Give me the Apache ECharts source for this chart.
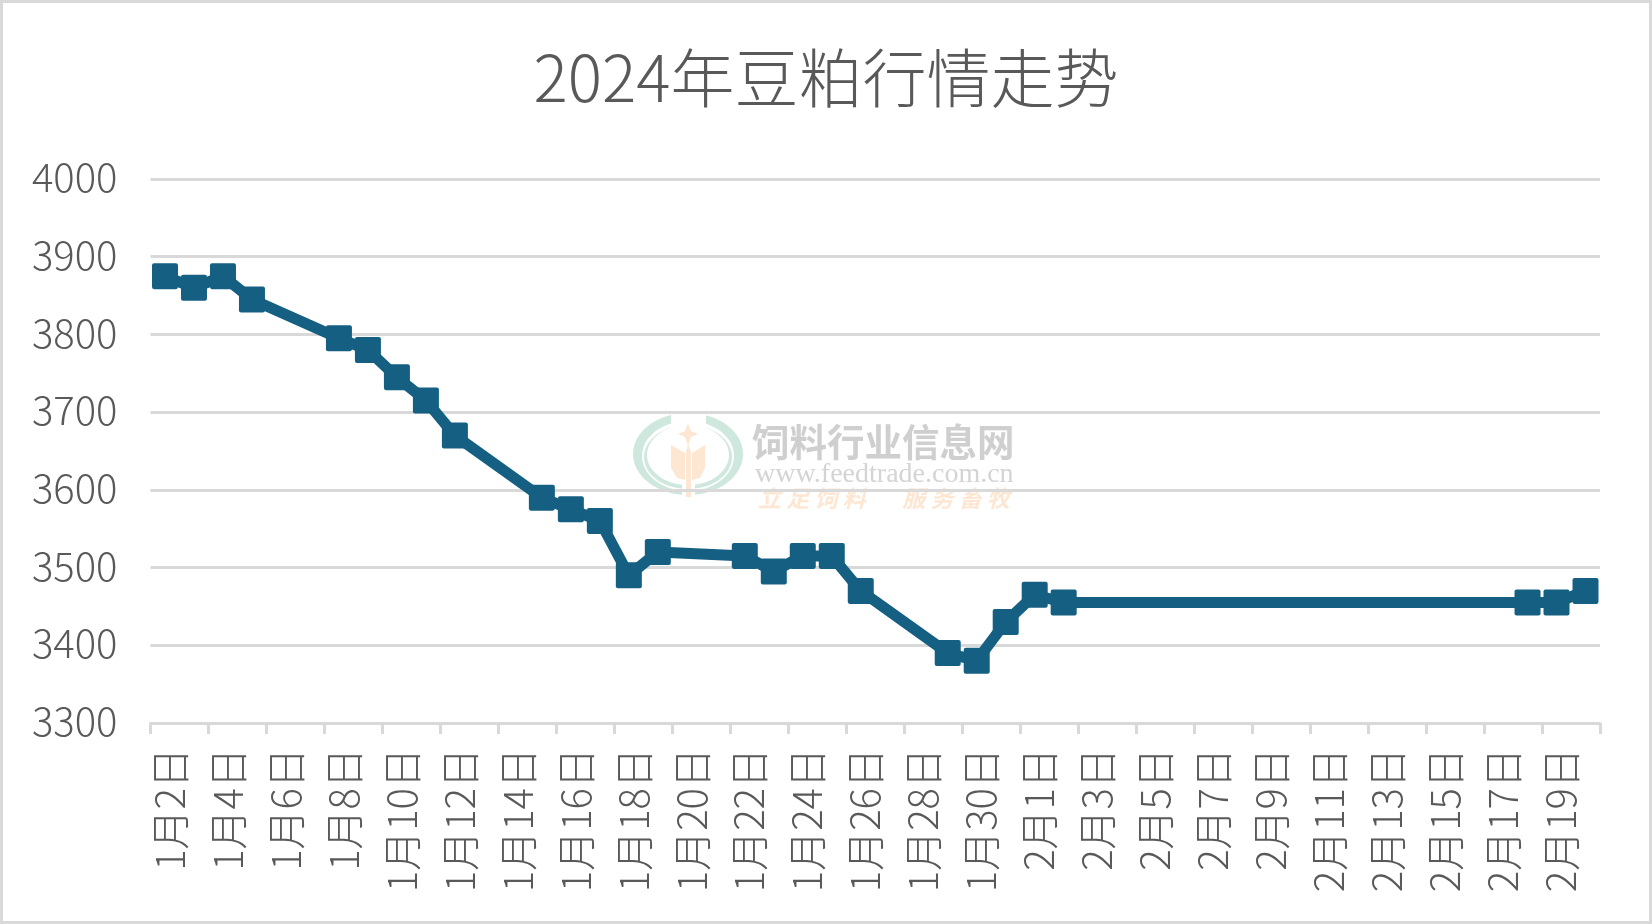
<!DOCTYPE html>
<html>
<head>
<meta charset="utf-8">
<style>html,body{margin:0;padding:0;background:#fff}#c{width:1652px;height:924px}</style>
<script src="https://cdn.jsdelivr.net/npm/echarts@6/dist/echarts.min.js"></script>
</head>
<body>
<div id="c"></div>
<script>
const titleText = '2024年豆粕行情走势';
const categories = ['1月2日','1月3日','1月4日','1月5日','1月6日','1月7日','1月8日','1月9日','1月10日','1月11日',
  '1月12日','1月13日','1月14日','1月15日','1月16日','1月17日','1月18日','1月19日','1月20日','1月21日',
  '1月22日','1月23日','1月24日','1月25日','1月26日','1月27日','1月28日','1月29日','1月30日','1月31日',
  '2月1日','2月2日','2月3日','2月4日','2月5日','2月6日','2月7日','2月8日','2月9日','2月10日',
  '2月11日','2月12日','2月13日','2月14日','2月15日','2月16日','2月17日','2月18日','2月19日','2月20日'];
const prices = [3875,3860,3875,3845,null,null,3795,3780,3745,3715,
  3670,null,null,3590,3575,3560,3490,3520,null,null,
  3515,3495,3515,3515,3470,null,null,3390,3380,3430,
  3465,3455,null,null,null,null,null,null,null,null,
  null,null,null,null,null,null,null,3455,3455,3470];
const yMin = 3300, yMax = 4000, yStep = 100;
const FONT = '"Noto Sans CJK SC","Noto Sans",sans-serif';
const TEAL = '#cfe8de', PEACH = '#fde7d3';
const MARK = 'path://M2,0H23Q25,0 25,2V23Q25,25 23,25H2Q0,25 0,23V2Q0,0 2,0Z';

const chart = echarts.init(document.getElementById('c'));
const wm = (o) => Object.assign({ z: -1, silent: true }, o);
chart.setOption({
  animation: false,
  backgroundColor: '#fff',
  title: {
    text: titleText, left: 'center', top: 41,
    textStyle: { fontFamily: FONT, fontSize: 64, fontWeight: 300, color: '#595959' }
  },
  grid: { left: 150.5, right: 52, top: 179, bottom: 201 },
  xAxis: {
    type: 'category', data: categories, boundaryGap: true,
    axisLine: { lineStyle: { color: '#d9d9d9', width: 3 } },
    axisTick: { show: true, interval: 1, length: 11, lineStyle: { color: '#d9d9d9', width: 3 } },
    axisLabel: { interval: 1, rotate: 90, margin: 25, verticalAlign: 'top', lineHeight: 9, fontFamily: FONT, fontSize: 40, fontWeight: 300, color: '#595959' }
  },
  yAxis: {
    type: 'value', min: yMin, max: yMax, interval: yStep,
    axisLine: { show: false }, axisTick: { show: false },
    axisLabel: { margin: 33, verticalAlign: 'bottom', lineHeight: 4, formatter: (v) => String(v), fontFamily: FONT, fontSize: 40, fontWeight: 300, color: '#595959' },
    splitLine: { lineStyle: { color: '#d9d9d9', width: 3 } }
  },
  series: [{
    type: 'line', data: prices, connectNulls: true,
    symbol: MARK, symbolSize: 26, showAllSymbol: true,
    lineStyle: { color: '#156082', width: 11 },
    itemStyle: { color: '#156082' }
  }],
  graphic: [
    wm({ type: 'rect', shape: { x: 1.5, y: 1.5, width: 1649, height: 921 }, style: { fill: 'none', stroke: '#d9d9d9', lineWidth: 3 } }),
    wm({ type: 'ellipse', shape: { cx: 688, cy: 454, rx: 55, ry: 41 }, style: { fill: TEAL } }),
    wm({ type: 'ellipse', shape: { cx: 688, cy: 456, rx: 46, ry: 35 }, style: { fill: '#fff' } }),
    wm({ type: 'ellipse', shape: { cx: 688, cy: 457, rx: 44, ry: 32 }, style: { fill: TEAL } }),
    wm({ type: 'ellipse', shape: { cx: 688, cy: 455, rx: 41, ry: 30 }, style: { fill: '#fff' } }),
    wm({ type: 'rect', shape: { x: 671, y: 411, width: 35, height: 40 }, style: { fill: '#fff' } }),
    wm({ type: 'rect', shape: { x: 682, y: 478, width: 13, height: 22 }, style: { fill: '#fff' } }),
    wm({ type: 'polygon', shape: { points: [[688,423],[691,431],[698,434],[691,437],[688,446],[685,437],[678,434],[685,431]] }, style: { fill: PEACH } }),
    wm({ type: 'polygon', shape: { points: [[671,445],[685,453],[685,480],[677,478],[671,468]] }, style: { fill: PEACH } }),
    wm({ type: 'polygon', shape: { points: [[705,445],[692,453],[692,480],[700,478],[705,468]] }, style: { fill: PEACH } }),
    wm({ type: 'polygon', shape: { points: [[688,444],[691,452],[691,497],[686,497],[686,452]] }, style: { fill: PEACH } }),
    wm({ type: 'text', x: 752, y: 423, style: { text: '饲料行业信息网', font: 'bold 37.5px ' + FONT, fill: '#cfcfcf' } }),
    wm({ type: 'text', x: 755, y: 461, style: { text: 'www.feedtrade.com.cn', font: '28px "Liberation Serif",serif', fill: '#d4d4d4' } }),
    wm({ type: 'text', x: 758, y: 487, style: { text: '立 足 饲 料       服 务 畜 牧', font: 'italic bold 23px ' + FONT, fill: PEACH } })
  ]
});
</script>
</body>
</html>
